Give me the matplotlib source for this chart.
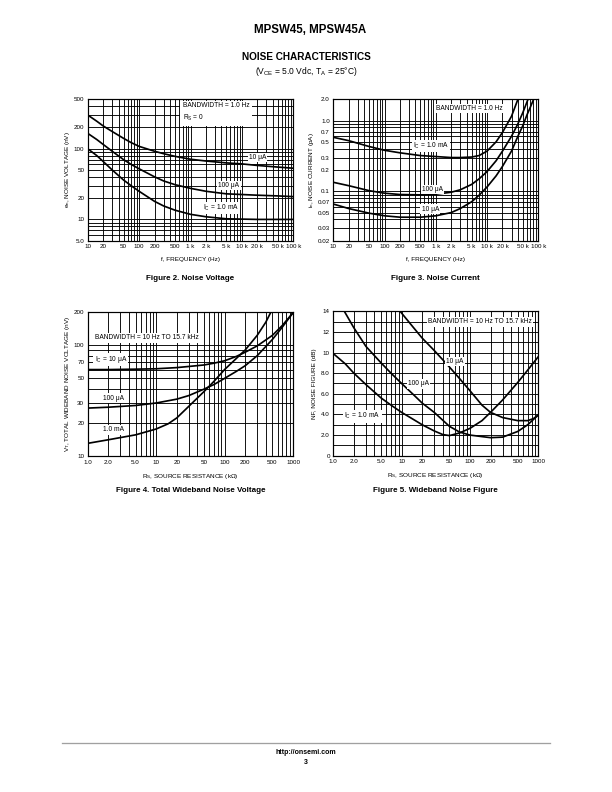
import matplotlib
matplotlib.use("Agg")
import matplotlib.pyplot as plt
from matplotlib import font_manager
from matplotlib.ticker import FixedLocator, NullFormatter, NullLocator
import numpy as np

# ---------------------------------------------------------------------------
# Data
# ---------------------------------------------------------------------------
# Figure 2: noise voltage vs frequency
FREQ_EN = [10, 15, 20, 30, 50, 70, 100, 200, 300, 500, 1e3, 2e3, 5e3, 1e4, 2e4, 5e4, 1e5]
EN_10UA = [300, 245, 210, 175, 140, 122, 108, 92, 85, 78, 71, 67, 63, 61, 58, 55, 53]
EN_100UA = [165, 135, 115, 92, 70, 60, 52, 40, 35, 31, 27.5, 25, 23, 22.5, 22, 21.5, 21]
EN_1MA = [100, 80, 66, 50, 36, 30, 25, 18, 15.5, 13.5, 11.8, 10.9, 10.2, 10.1, 10, 10, 10]

# Figure 3: noise current vs frequency
FREQ_IN_1MA = [10, 20, 50, 100, 200, 500, 1e3, 2e3, 3e3, 5e3, 7e3, 1e4, 1.5e4, 2e4, 3e4, 4e4]
IN_1MA = [0.58, 0.52, 0.43, 0.38, 0.35, 0.32, 0.31, 0.30, 0.30, 0.305, 0.32, 0.37, 0.5, 0.68, 1.15, 2.0]
FREQ_IN_100UA = [10, 20, 50, 100, 200, 500, 1e3, 2e3, 3e3, 5e3, 7e3, 1e4, 1.5e4, 2e4, 3e4, 4e4, 5e4, 6.3e4]
IN_100UA = [0.134, 0.12, 0.102, 0.094, 0.09, 0.089, 0.091, 0.097, 0.105, 0.125, 0.15, 0.19, 0.27, 0.37, 0.6, 0.9, 1.3, 2.0]
FREQ_IN_10UA = [10, 20, 50, 100, 200, 500, 1e3, 2e3, 3e3, 5e3, 7e3, 1e4, 1.5e4, 2e4, 3e4, 4e4, 5e4, 6e4, 7e4, 8.1e4]
IN_10UA = [0.066, 0.057, 0.049, 0.045, 0.043, 0.043, 0.045, 0.050, 0.057, 0.071, 0.088, 0.115, 0.165, 0.225, 0.37, 0.6, 0.85, 1.2, 1.55, 2.0]

# Figure 4: total wideband noise voltage vs source resistance
RS_VT = [1, 2, 5, 10, 20, 30, 50, 70, 100, 150, 200, 300, 500, 700, 1000]
VT_10UA = [60, 60, 60.5, 61, 62.5, 64, 66, 68.5, 72, 79, 86, 98, 122, 150, 195]
VT_100UA = [27, 27.5, 28.5, 30, 32.5, 35, 40, 44, 50, 58, 65, 80, 112, 145, 195]
RS_VT_1MA = [1, 2, 5, 10, 15, 20, 30, 50, 70, 100, 150, 200, 300, 400, 480]
VT_1MA = [13, 14, 15.5, 17.5, 19.5, 22, 28, 38, 47, 60, 76, 90, 122, 160, 200]

# Figure 5: wideband noise figure vs source resistance
RS_NF_1MA = [1, 1.5, 2, 3, 5, 7, 10, 15, 20, 30, 40, 50, 70, 100, 150, 200, 300, 500, 700, 1000]
NF_1MA = [9.9, 8.9, 8.0, 6.9, 5.6, 4.9, 4.2, 3.5, 3.0, 2.4, 2.05, 1.95, 2.2, 2.65, 3.4, 4.2, 5.4, 7.1, 8.3, 9.6]
RS_NF_100UA = [1.45, 2, 3, 5, 7, 10, 15, 20, 30, 50, 70, 100, 150, 200, 300, 500, 700, 1000]
NF_100UA = [14, 12.4, 10.6, 9.0, 8.0, 7.0, 5.9, 5.1, 4.2, 2.85, 2.3, 2.0, 1.85, 1.75, 1.8, 2.35, 3.0, 3.95]
RS_NF_10UA = [9.5, 15, 20, 30, 50, 70, 100, 150, 200, 300, 500, 700, 850, 1000]
NF_10UA = [14, 12.4, 11.4, 10.2, 8.6, 7.5, 6.3, 4.9, 4.2, 3.7, 3.4, 3.4, 3.6, 3.95]

# Tick labels
FREQ_TICKS = [10, 20, 50, 100, 200, 500, 1e3, 2e3, 5e3, 1e4, 2e4, 5e4, 1e5]
FREQ_LABELS = ["10", "20", "50", "100", "200", "500", "1 k", "2 k", "5 k", "10 k", "20 k", "50 k", "100 k"]
RS_TICKS = [1, 2, 5, 10, 20, 50, 100, 200, 500, 1000]
RS_LABELS = ["1.0", "2.0", "5.0", "10", "20", "50", "100", "200", "500", "1000"]
EN_TICKS = [5, 10, 20, 50, 100, 200, 500]
EN_LABELS = ["5.0", "10", "20", "50", "100", "200", "500"]
IN_TICKS = [0.02, 0.03, 0.05, 0.07, 0.1, 0.2, 0.3, 0.5, 0.7, 1.0, 2.0]
IN_LABELS = ["0.02", "0.03", "0.05", "0.07", "0.1", "0.2", "0.3", "0.5", "0.7", "1.0", "2.0"]
VT_TICKS = [10, 20, 30, 50, 70, 100, 200]
VT_LABELS = ["10", "20", "30", "50", "70", "100", "200"]
NF_TICKS = [0, 2, 4, 6, 8, 10, 12, 14]
NF_LABELS = ["0", "2.0", "4.0", "6.0", "8.0", "10", "12", "14"]

# ---------------------------------------------------------------------------
available = {f.name for f in font_manager.fontManager.ttflist}
NARROW = "Liberation Sans Narrow" if "Liberation Sans Narrow" in available else "Liberation Sans"
plt.rcParams["font.family"] = ["Liberation Sans", "DejaVu Sans"]
plt.rcParams["mathtext.fontset"] = "custom"
plt.rcParams["mathtext.rm"] = NARROW
plt.rcParams["mathtext.it"] = NARROW
plt.rcParams["mathtext.bf"] = "Liberation Sans:bold"

TICK_FS = 6.3
LABEL_FS = 6.4
NOTE_FS = 6.6
CURVE_LW = 1.7
GRID_LW = 0.9
BOX = dict(facecolor="white", edgecolor="none", pad=1.2)


def log_grid(lo, hi):
    vals = []
    for dec in range(int(np.floor(np.log10(lo))) - 1, int(np.ceil(np.log10(hi))) + 1):
        for m in range(1, 10):
            v = m * 10.0 ** dec
            if lo * 0.999 <= v <= hi * 1.001:
                vals.append(v)
    return vals


def setup_axes(ax, xlim, ylim, xticks, xlabels, yticks, ylabels, ylog=True, ygrid=None):
    ax.set_xscale("log")
    if ylog:
        ax.set_yscale("log")
    ax.set_xlim(*xlim)
    ax.set_ylim(*ylim)
    for x in log_grid(*xlim):
        ax.axvline(x, color="black", lw=GRID_LW, zorder=1)
    ys = log_grid(*ylim) if ylog else ygrid
    for y in ys:
        ax.axhline(y, color="black", lw=GRID_LW, zorder=1)
    ax.xaxis.set_minor_locator(NullLocator())
    ax.yaxis.set_minor_locator(NullLocator())
    ax.xaxis.set_minor_formatter(NullFormatter())
    ax.yaxis.set_minor_formatter(NullFormatter())
    ax.xaxis.set_major_locator(FixedLocator(xticks))
    ax.set_xticklabels(xlabels, fontsize=TICK_FS, family=NARROW)
    ax.yaxis.set_major_locator(FixedLocator(yticks))
    ax.set_yticklabels(ylabels, fontsize=TICK_FS, family=NARROW)
    ax.tick_params(length=0, pad=3.5)
    for sp in ax.spines.values():
        sp.set_linewidth(1.2)
        sp.set_zorder(5)


def note(ax, x, y, s, ha="center"):
    ax.text(x, y, s, transform=ax.transAxes, fontsize=NOTE_FS, family=NARROW,
            ha=ha, va="center", bbox=BOX, zorder=4)


W, H = 612, 792
fig = plt.figure(figsize=(W / 72, H / 72), dpi=72)
fig.patch.set_facecolor("white")


def px_axes(left, top, right, bottom):
    return fig.add_axes([left / W, 1 - bottom / H, (right - left) / W, (bottom - top) / H])


# ---- Figure 2 -------------------------------------------------------------
ax1 = px_axes(87.7, 99.3, 293.3, 240.7)
setup_axes(ax1, (10, 1e5), (5, 500), FREQ_TICKS, FREQ_LABELS, EN_TICKS, EN_LABELS)
for ys in (EN_10UA, EN_100UA, EN_1MA):
    ax1.plot(FREQ_EN, ys, color="black", lw=CURVE_LW, zorder=3, solid_capstyle="butt")
ax1.text(0.462, 0.905, "BANDWIDTH = 1.0 Hz\nR$_\\mathrm{S}$ = 0", transform=ax1.transAxes,
         fontsize=NOTE_FS, family=NARROW, ha="left", va="center", linespacing=1.5,
         bbox=dict(facecolor="white", edgecolor="none", pad=2.5), zorder=4)
note(ax1, 0.826, 0.587, "10 \u03bcA")
note(ax1, 0.687, 0.389, "100 \u03bcA")
note(ax1, 0.648, 0.231, "I$_\\mathrm{C}$ = 1.0 mA")
ax1.set_xlabel("f, FREQUENCY (Hz)", fontsize=LABEL_FS, family=NARROW, labelpad=8)
ax1.set_ylabel("e$_\\mathrm{n}$, NOISE VOLTAGE (nV)", fontsize=LABEL_FS, family=NARROW, labelpad=2)

# ---- Figure 3 -------------------------------------------------------------
ax2 = px_axes(333.3, 99.3, 538.3, 240.7)
setup_axes(ax2, (10, 1e5), (0.02, 2.0), FREQ_TICKS, FREQ_LABELS, IN_TICKS, IN_LABELS)
ax2.plot(FREQ_IN_1MA, IN_1MA, color="black", lw=CURVE_LW, zorder=3)
ax2.plot(FREQ_IN_100UA, IN_100UA, color="black", lw=CURVE_LW, zorder=3)
ax2.plot(FREQ_IN_10UA, IN_10UA, color="black", lw=CURVE_LW, zorder=3)
note(ax2, 0.662, 0.936, "BANDWIDTH = 1.0 Hz")
note(ax2, 0.478, 0.670, "I$_\\mathrm{C}$ = 1.0 mA")
note(ax2, 0.483, 0.364, "100 \u03bcA")
note(ax2, 0.473, 0.224, "10 \u03bcA")
ax2.set_xlabel("f, FREQUENCY (Hz)", fontsize=LABEL_FS, family=NARROW, labelpad=8)
ax2.set_ylabel("i$_\\mathrm{n}$, NOISE CURRENT (pA)", fontsize=LABEL_FS, family=NARROW, labelpad=2)

# ---- Figure 4 -------------------------------------------------------------
ax3 = px_axes(87.7, 311.5, 293.0, 456.0)
setup_axes(ax3, (1, 1000), (10, 200), RS_TICKS, RS_LABELS, VT_TICKS, VT_LABELS)
ax3.plot(RS_VT, VT_10UA, color="black", lw=CURVE_LW, zorder=3)
ax3.plot(RS_VT, VT_100UA, color="black", lw=CURVE_LW, zorder=3)
ax3.plot(RS_VT_1MA, VT_1MA, color="black", lw=CURVE_LW, zorder=3)
note(ax3, 0.287, 0.817, "BANDWIDTH = 10 Hz TO 15.7 kHz")
note(ax3, 0.113, 0.666, "I$_\\mathrm{C}$ = 10 \u03bcA")
note(ax3, 0.128, 0.401, "100 \u03bcA")
note(ax3, 0.128, 0.180, "1.0 mA")
ax3.set_xlabel("R$_\\mathrm{S}$, SOURCE RESISTANCE (k\u03a9)", fontsize=LABEL_FS, family=NARROW, labelpad=7)
ax3.set_ylabel("V$_\\mathrm{T}$, TOTAL WIDEBAND NOISE VOLTAGE (nV)", fontsize=LABEL_FS, family=NARROW, labelpad=2)

# ---- Figure 5 -------------------------------------------------------------
ax4 = px_axes(333.3, 311.3, 538.3, 455.7)
setup_axes(ax4, (1, 1000), (0, 14), RS_TICKS, RS_LABELS, NF_TICKS, NF_LABELS,
           ylog=False, ygrid=list(range(0, 15)))
ax4.plot(RS_NF_1MA, NF_1MA, color="black", lw=CURVE_LW, zorder=3)
ax4.plot(RS_NF_100UA, NF_100UA, color="black", lw=CURVE_LW, zorder=3)
ax4.plot(RS_NF_10UA, NF_10UA, color="black", lw=CURVE_LW, zorder=3)
note(ax4, 0.716, 0.926, "BANDWIDTH = 10 Hz TO 15.7 kHz")
note(ax4, 0.594, 0.654, "10 \u03bcA")
note(ax4, 0.415, 0.497, "100 \u03bcA")
note(ax4, 0.142, 0.273, "I$_\\mathrm{C}$ = 1.0 mA")
ax4.set_xlabel("R$_\\mathrm{S}$, SOURCE RESISTANCE (k\u03a9)", fontsize=LABEL_FS, family=NARROW, labelpad=7)
ax4.set_ylabel("NF, NOISE FIGURE (dB)", fontsize=LABEL_FS, family=NARROW, labelpad=4)

# ---- captions, header, footer ---------------------------------------------
def page_text(x, y, s, size, weight="bold"):
    fig.text(x / W, 1 - y / H, s, fontsize=size, fontweight=weight, ha="center", va="center")


page_text(190.5, 279, "Figure 2. Noise Voltage", 8)
page_text(435.8, 279, "Figure 3. Noise Current", 8)
page_text(190.5, 491, "Figure 4. Total Wideband Noise Voltage", 8)
page_text(435.8, 491, "Figure 5. Wideband Noise Figure", 8)

page_text(310, 30, "MPSW45, MPSW45A", 11.5)
page_text(306, 57, "NOISE CHARACTERISTICS", 10)
page_text(306, 71, "(V$_\\mathrm{CE}$ = 5.0 Vdc, T$_\\mathrm{A}$ = 25\u00b0C)", 8.5, weight="normal")

fig.add_artist(plt.Line2D([62 / W, 550 / W], [1 - 743 / H, 1 - 743 / H], color="#a0a0a0", lw=1.3))
page_text(306, 752, "http://onsemi.com", 7)
page_text(306, 762, "3", 7)

fig.savefig("out.png", dpi=72, facecolor="white")
